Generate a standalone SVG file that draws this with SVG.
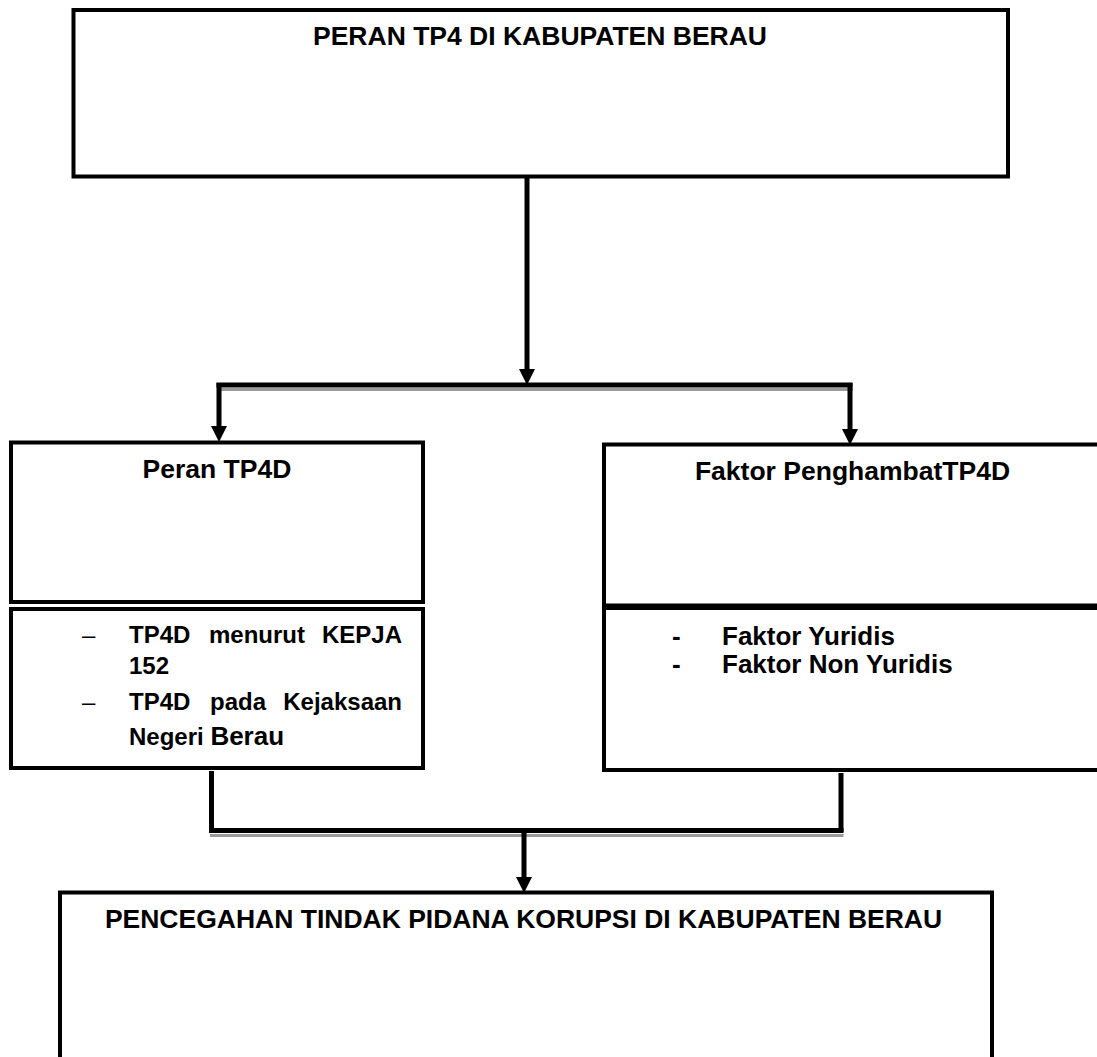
<svg xmlns="http://www.w3.org/2000/svg" width="1097" height="1057" viewBox="0 0 1097 1057">
  <defs>
    <marker id="arrow" markerUnits="userSpaceOnUse" markerWidth="16" markerHeight="16" refX="0" refY="8" orient="auto" overflow="visible">
      <path d="M0,0 L16,8 L0,16 Z" fill="#000"/>
    </marker>
  </defs>
  <style>
    .box { fill: #fff; stroke: #000; stroke-width: 4; }
    .t { font-family: "Liberation Sans", Arial, sans-serif; font-weight: bold; fill: #000; }
    .title { font-size: 26.5px; }
    .item { font-size: 24px; }
    .itemR { font-size: 26px; }
    .dash { font-family: "Liberation Sans", Arial, sans-serif; font-weight: normal; font-size: 24px; fill: #000; }
    .conn { stroke: #000; stroke-width: 5; fill: none; }
    .shadow { stroke: #9a9a9a; stroke-width: 3; fill: none; }
  </style>
  <rect width="1097" height="1057" fill="#fff"/>

  <g id="connectors">
    <line class="conn" x1="527" y1="178" x2="527" y2="369" marker-end="url(#arrow)"/>
    <line class="shadow" x1="218" y1="389.5" x2="853" y2="389.5"/>
    <line class="conn" x1="216.5" y1="385" x2="852.5" y2="385"/>
    <line class="conn" x1="219" y1="383" x2="219" y2="426" marker-end="url(#arrow)"/>
    <line class="conn" x1="850" y1="383" x2="850" y2="429" marker-end="url(#arrow)"/>
    <line class="conn" x1="211.5" y1="771" x2="211.5" y2="832"/>
    <line class="conn" x1="841" y1="773" x2="841" y2="832"/>
    <line class="shadow" x1="210" y1="835.5" x2="843.5" y2="835.5"/>
    <line class="conn" x1="209" y1="830.5" x2="843.5" y2="830.5"/>
    <line class="conn" x1="524" y1="833" x2="524" y2="877" marker-end="url(#arrow)"/>
  </g>

  <g id="node-top">
    <rect class="box" x="73.5" y="10" width="934.5" height="166.5"/>
    <text class="t title" x="540" y="45" text-anchor="middle">PERAN TP4 DI KABUPATEN BERAU</text>
  </g>

  <g id="node-peran">
    <rect class="box" x="11" y="442.5" width="412" height="159.5"/>
    <text class="t title" x="217" y="478" text-anchor="middle">Peran TP4D</text>
  </g>

  <g id="node-peran-list">
    <rect class="box" x="11" y="609" width="412" height="159"/>
    <text class="dash" x="82" y="643">–</text>
    <text class="t item" y="643"><tspan x="129">TP4D</tspan><tspan x="209">menurut</tspan><tspan x="402" text-anchor="end">KEPJA</tspan></text>
    <text class="t item" x="129" y="674">152</text>
    <text class="dash" x="82" y="710">–</text>
    <text class="t item" y="710"><tspan x="129">TP4D</tspan><tspan x="210">pada</tspan><tspan x="402" text-anchor="end">Kejaksaan</tspan></text>
    <text class="t item" x="129" y="745">Negeri <tspan style="font-size:26px">Berau</tspan></text>
  </g>

  <g id="node-faktor">
    <rect class="box" x="604" y="444.5" width="497" height="161"/>
    <text class="t title" x="852.5" y="480" text-anchor="middle">Faktor PenghambatTP4D</text>
  </g>

  <g id="node-faktor-list">
    <rect class="box" x="604" y="608" width="497" height="162"/>
    <text class="t itemR" x="672" y="645">-</text>
    <text class="t itemR" x="722" y="645">Faktor Yuridis</text>
    <text class="t itemR" x="672" y="673">-</text>
    <text class="t itemR" x="722" y="673">Faktor Non Yuridis</text>
  </g>

  <g id="node-bottom">
    <rect class="box" x="60" y="892.5" width="932" height="200"/>
    <text class="t title" x="523.5" y="928" text-anchor="middle">PENCEGAHAN TINDAK PIDANA KORUPSI DI KABUPATEN BERAU</text>
  </g>
</svg>
